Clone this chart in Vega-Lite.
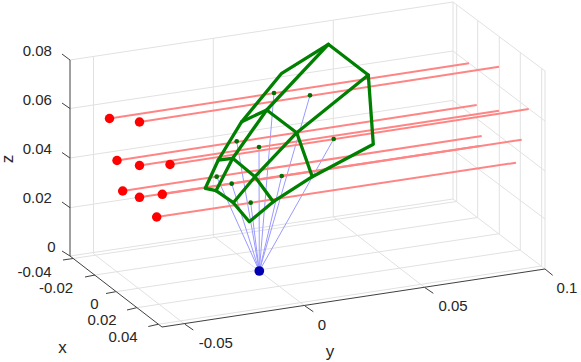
{"$schema":"https://vega.github.io/schema/vega-lite/v6.json","width":581,"height":362,"padding":0,"autosize":{"type":"none"},"background":"white","view":{"stroke":null},
"datasets":{
"grid":[
{"s":"z08b","i":0,"px":70,"py":60},{"s":"z08b","i":1,"px":453,"py":2},
{"s":"z06b","i":0,"px":70,"py":108.5},{"s":"z06b","i":1,"px":453,"py":51},
{"s":"z04b","i":0,"px":70,"py":158},{"s":"z04b","i":1,"px":453,"py":100.4},
{"s":"z02b","i":0,"px":70,"py":207.7},{"s":"z02b","i":1,"px":453,"py":150},
{"s":"z00b","i":0,"px":70,"py":256},{"s":"z00b","i":1,"px":453,"py":199},
{"s":"z08r","i":0,"px":453,"py":2},{"s":"z08r","i":1,"px":545,"py":71},
{"s":"z06r","i":0,"px":453,"py":51},{"s":"z06r","i":1,"px":545,"py":121},
{"s":"z04r","i":0,"px":453,"py":100.4},{"s":"z04r","i":1,"px":545,"py":171},
{"s":"z02r","i":0,"px":453,"py":150},{"s":"z02r","i":1,"px":545,"py":219},
{"s":"z00r","i":0,"px":453,"py":199},{"s":"z00r","i":1,"px":545,"py":269},
{"s":"yv1","i":0,"px":93.5,"py":56.4},{"s":"yv1","i":1,"px":93.5,"py":253.7},
{"s":"yv2","i":0,"px":213.3,"py":38.3},{"s":"yv2","i":1,"px":213.3,"py":236},
{"s":"yv3","i":0,"px":333.3,"py":20.2},{"s":"yv3","i":1,"px":333.3,"py":216.7},
{"s":"yv4","i":0,"px":453,"py":2},{"s":"yv4","i":1,"px":453,"py":199},
{"s":"xv1","i":0,"px":456.7,"py":4.8},{"s":"xv1","i":1,"px":456.7,"py":201.5},
{"s":"xv2","i":0,"px":477.7,"py":20.6},{"s":"xv2","i":1,"px":477.7,"py":217.5},
{"s":"xv3","i":0,"px":499.3,"py":36.7},{"s":"xv3","i":1,"px":499.3,"py":233.7},
{"s":"xv4","i":0,"px":520.3,"py":52.5},{"s":"xv4","i":1,"px":520.3,"py":250},
{"s":"xv5","i":0,"px":541.7,"py":68.5},{"s":"xv5","i":1,"px":541.7,"py":266},
{"s":"rv","i":0,"px":545,"py":71},{"s":"rv","i":1,"px":545,"py":269},
{"s":"yf1","i":0,"px":185,"py":324.3},{"s":"yf1","i":1,"px":93.5,"py":253.7},
{"s":"yf2","i":0,"px":305,"py":306},{"s":"yf2","i":1,"px":213.3,"py":236},
{"s":"yf3","i":0,"px":425,"py":287.7},{"s":"yf3","i":1,"px":333.3,"py":216.7},
{"s":"xf1","i":0,"px":73,"py":258.5},{"s":"xf1","i":1,"px":456.7,"py":201.5},
{"s":"xf2","i":0,"px":95,"py":275},{"s":"xf2","i":1,"px":477.7,"py":217.5},
{"s":"xf3","i":0,"px":115.7,"py":291.7},{"s":"xf3","i":1,"px":499.3,"py":233.7},
{"s":"xf4","i":0,"px":136.7,"py":307.7},{"s":"xf4","i":1,"px":520.3,"py":250},
{"s":"xf5","i":0,"px":158,"py":324.3},{"s":"xf5","i":1,"px":541.7,"py":266}
],
"axes":[
{"s":"zaxis","i":0,"px":70,"py":60},{"s":"zaxis","i":1,"px":70,"py":256},
{"s":"xaxis","i":0,"px":70,"py":256},{"s":"xaxis","i":1,"px":162,"py":327},
{"s":"yaxis","i":0,"px":162,"py":327},{"s":"yaxis","i":1,"px":545,"py":269},
{"s":"zt1","i":0,"px":62,"py":54},{"s":"zt1","i":1,"px":70,"py":60},
{"s":"zt2","i":0,"px":62,"py":103},{"s":"zt2","i":1,"px":70,"py":108.5},
{"s":"zt3","i":0,"px":62,"py":152.5},{"s":"zt3","i":1,"px":70,"py":158},
{"s":"zt4","i":0,"px":62,"py":202},{"s":"zt4","i":1,"px":70,"py":207.7},
{"s":"zt5","i":0,"px":62,"py":251},{"s":"zt5","i":1,"px":70,"py":256},
{"s":"xt1","i":0,"px":63,"py":260},{"s":"xt1","i":1,"px":73,"py":258.5},
{"s":"xt2","i":0,"px":85,"py":277},{"s":"xt2","i":1,"px":95,"py":275},
{"s":"xt3","i":0,"px":106,"py":293.5},{"s":"xt3","i":1,"px":115.7,"py":291.7},
{"s":"xt4","i":0,"px":127,"py":310},{"s":"xt4","i":1,"px":136.7,"py":307.7},
{"s":"xt5","i":0,"px":148.3,"py":326.5},{"s":"xt5","i":1,"px":158,"py":324.3},
{"s":"yt1","i":0,"px":185,"py":324.3},{"s":"yt1","i":1,"px":193.3,"py":330},
{"s":"yt2","i":0,"px":305,"py":306},{"s":"yt2","i":1,"px":313.3,"py":311.7},
{"s":"yt3","i":0,"px":425,"py":287.7},{"s":"yt3","i":1,"px":433.3,"py":293.3},
{"s":"yt4","i":0,"px":545,"py":269},{"s":"yt4","i":1,"px":552.7,"py":275.3}
],
"rays":[
{"s":"r1","i":0,"px":109.5,"py":118.5},{"s":"r1","i":1,"px":469,"py":63.3},
{"s":"r2","i":0,"px":139.5,"py":122},{"s":"r2","i":1,"px":499,"py":66.7},
{"s":"r3","i":0,"px":117,"py":160.5},{"s":"r3","i":1,"px":476.7,"py":105},
{"s":"r4","i":0,"px":139.5,"py":165.5},{"s":"r4","i":1,"px":499,"py":110.7},
{"s":"r5","i":0,"px":170,"py":164.5},{"s":"r5","i":1,"px":528.7,"py":109},
{"s":"r6","i":0,"px":122.7,"py":191},{"s":"r6","i":1,"px":481.7,"py":136},
{"s":"r7","i":0,"px":139.5,"py":197.3},{"s":"r7","i":1,"px":480,"py":146},
{"s":"r8","i":0,"px":162.3,"py":194.3},{"s":"r8","i":1,"px":521.7,"py":139.7},
{"s":"r9","i":0,"px":156.7,"py":217},{"s":"r9","i":1,"px":516,"py":162.7}
],
"redpts":[{"px":109.5,"py":118.5},{"px":139.5,"py":122},{"px":117,"py":160.5},{"px":139.5,"py":165.5},{"px":170,"py":164.5},{"px":122.7,"py":191},{"px":139.5,"py":197.3},{"px":162.3,"py":194.3},{"px":156.7,"py":217}],
"blue":[
{"s":"b1","i":0,"px":259.3,"py":271},{"s":"b1","i":1,"px":274,"py":93},
{"s":"b2","i":0,"px":259.3,"py":271},{"s":"b2","i":1,"px":310,"py":95.3},
{"s":"b3","i":0,"px":259.3,"py":271},{"s":"b3","i":1,"px":236.7,"py":141.3},
{"s":"b4","i":0,"px":259.3,"py":271},{"s":"b4","i":1,"px":259,"py":147},
{"s":"b5","i":0,"px":259.3,"py":271},{"s":"b5","i":1,"px":333.7,"py":139},
{"s":"b6","i":0,"px":259.3,"py":271},{"s":"b6","i":1,"px":216.7,"py":176.7},
{"s":"b7","i":0,"px":259.3,"py":271},{"s":"b7","i":1,"px":231.7,"py":183.7},
{"s":"b8","i":0,"px":259.3,"py":271},{"s":"b8","i":1,"px":281.7,"py":176},
{"s":"b9","i":0,"px":259.3,"py":271},{"s":"b9","i":1,"px":250.7,"py":202.7}
],
"bluept":[{"px":259.3,"py":271}],
"green":[
{"s":"outer","i":0,"px":205.3,"py":188.3},{"s":"outer","i":1,"px":218.3,"py":160},{"s":"outer","i":2,"px":241.7,"py":121.7},{"s":"outer","i":3,"px":281.7,"py":73.3},{"s":"outer","i":4,"px":328.3,"py":44.3},{"s":"outer","i":5,"px":368.3,"py":75},{"s":"outer","i":6,"px":373.3,"py":144.3},{"s":"outer","i":7,"px":312.3,"py":176.7},{"s":"outer","i":8,"px":273.3,"py":201.7},{"s":"outer","i":9,"px":249.3,"py":221.7},{"s":"outer","i":10,"px":233.3,"py":202.7},{"s":"outer","i":11,"px":216,"py":190.7},{"s":"outer","i":12,"px":205.3,"py":188.3},
{"s":"a","i":0,"px":216,"py":190.7},{"s":"a","i":1,"px":232.7,"py":158.3},{"s":"a","i":2,"px":266.7,"py":110},{"s":"a","i":3,"px":328.3,"py":44.3},
{"s":"b","i":0,"px":233.3,"py":202.7},{"s":"b","i":1,"px":255,"py":176.7},{"s":"b","i":2,"px":296.7,"py":132.7},{"s":"b","i":3,"px":368.3,"py":75},
{"s":"c","i":0,"px":218.3,"py":160},{"s":"c","i":1,"px":232.7,"py":158.3},{"s":"c","i":2,"px":255,"py":176.7},{"s":"c","i":3,"px":273.3,"py":201.7},
{"s":"d","i":0,"px":241.7,"py":121.7},{"s":"d","i":1,"px":266.7,"py":110},{"s":"d","i":2,"px":296.7,"py":132.7},{"s":"d","i":3,"px":312.3,"py":176.7}
],
"greenpts":[{"px":274,"py":93},{"px":310,"py":95.3},{"px":236.7,"py":141.3},{"px":259,"py":147},{"px":333.7,"py":139},{"px":216.7,"py":176.7},{"px":231.7,"py":183.7},{"px":281.7,"py":176},{"px":250.7,"py":202.7}],
"ticks":[
{"t":"0.08","px":37.3,"py":50.5},{"t":"0.06","px":37.3,"py":99.5},{"t":"0.04","px":37.3,"py":149},{"t":"0.02","px":37.3,"py":198.3},{"t":"0","px":51.5,"py":247},
{"t":"-0.04","px":34.5,"py":271.7},{"t":"-0.02","px":56,"py":287.7},{"t":"0","px":94.5,"py":304.3},{"t":"0.02","px":102,"py":320.3},{"t":"0.04","px":123,"py":336.7},
{"t":"-0.05","px":215.8,"py":342.7},{"t":"0","px":322,"py":324.7},{"t":"0.05","px":453,"py":306.3},{"t":"0.1","px":567,"py":287.7}
],
"names":[{"t":"x","px":62.5,"py":348},{"t":"y","px":330,"py":352}],
"zname":[{"t":"z","px":8,"py":159}]
},
"encoding":{
"x":{"field":"px","type":"quantitative","scale":{"domain":[0,581],"nice":false,"zero":false},"axis":null},
"y":{"field":"py","type":"quantitative","scale":{"domain":[362,0],"nice":false,"zero":false},"axis":null}
},
"layer":[
{"data":{"name":"grid"},"mark":{"type":"line","stroke":"#e1e1e1","strokeWidth":1,"clip":false},"encoding":{"detail":{"field":"s"},"order":{"field":"i"}}},
{"data":{"name":"axes"},"mark":{"type":"line","stroke":"#404040","strokeWidth":1},"encoding":{"detail":{"field":"s"},"order":{"field":"i"}}},
{"data":{"name":"blue"},"mark":{"type":"line","stroke":"#9a9aff","strokeWidth":1},"encoding":{"detail":{"field":"s"},"order":{"field":"i"}}},
{"data":{"name":"rays"},"mark":{"type":"line","stroke":"#ff8585","strokeWidth":2},"encoding":{"detail":{"field":"s"},"order":{"field":"i"}}},
{"data":{"name":"redpts"},"mark":{"type":"point","filled":true,"fill":"#ff0000","opacity":1,"size":90}},
{"data":{"name":"green"},"mark":{"type":"line","stroke":"#008000","strokeWidth":3.3,"strokeJoin":"round","strokeCap":"round"},"encoding":{"detail":{"field":"s"},"order":{"field":"i"}}},
{"data":{"name":"greenpts"},"mark":{"type":"point","filled":true,"fill":"#007000","opacity":1,"size":22}},
{"data":{"name":"bluept"},"mark":{"type":"point","filled":true,"fill":"#0000b0","opacity":1,"size":95}},
{"data":{"name":"ticks"},"mark":{"type":"text","font":"Liberation Sans","fontSize":15,"fill":"#262626","align":"center","baseline":"middle"},"encoding":{"text":{"field":"t"}}},
{"data":{"name":"names"},"mark":{"type":"text","font":"Liberation Sans","fontSize":17,"fill":"#262626","align":"center","baseline":"middle"},"encoding":{"text":{"field":"t"}}},
{"data":{"name":"zname"},"mark":{"type":"text","font":"Liberation Sans","fontSize":17,"fill":"#262626","align":"center","baseline":"middle","angle":270},"encoding":{"text":{"field":"t"}}}
]}
